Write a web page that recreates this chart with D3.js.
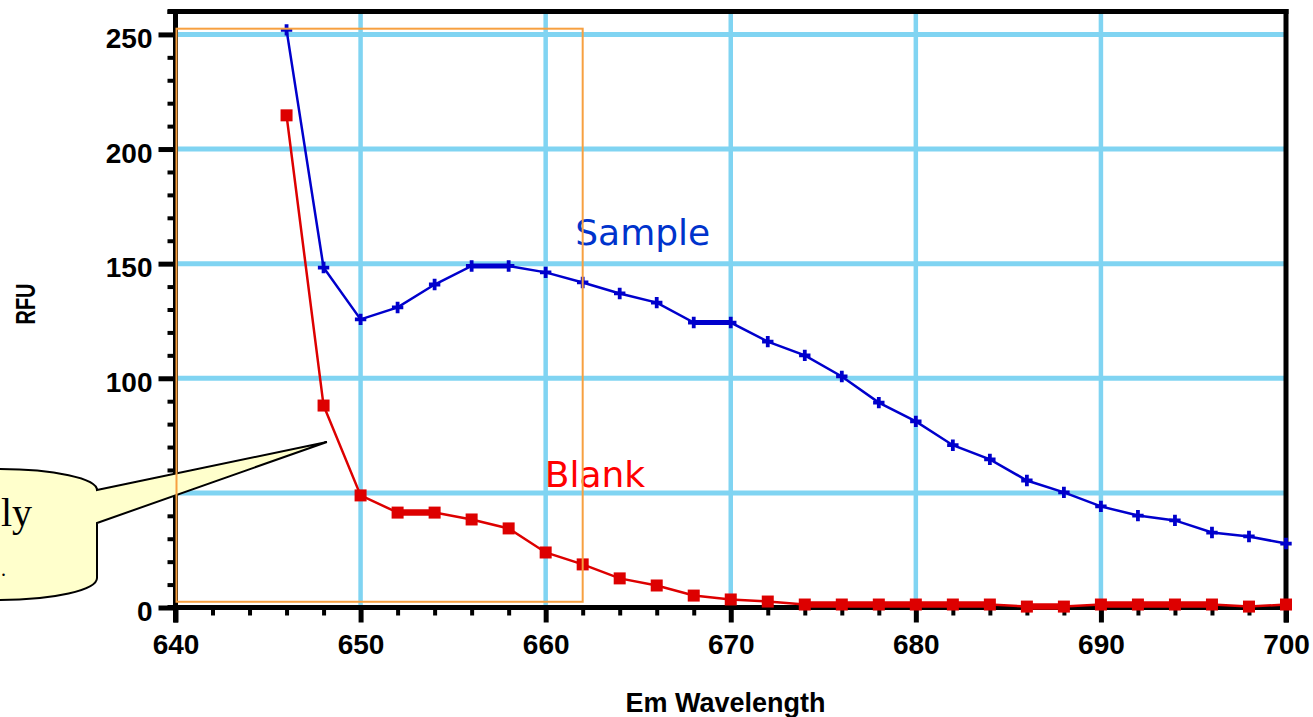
<!DOCTYPE html>
<html>
<head>
<meta charset="utf-8">
<script src="https://cdn.jsdelivr.net/npm/d3@7"></script>
<style>
  html, body { margin: 0; padding: 0; background: #fff; overflow: hidden; }
  svg { display: block; }
</style>
</head>
<body>
<svg id="chart" width="1313" height="717"></svg>
<script>
// ---- data ----
const wavelengths = [646,648,650,652,654,656,658,660,662,664,666,668,670,672,674,676,678,680,682,684,686,688,690,692,694,696,698,700];
const sampleValues = [252,148.3,125.7,130.9,140.9,149,149,146.2,141.8,137,133,124.3,124.3,116,110,100.8,89.4,81.2,70.8,64.6,55.4,50.2,44.1,40.1,38,32.7,31,27.9];
const blankValues  = [214.7,88.1,48.9,41.4,41.4,38.4,34.5,24,18.8,12.7,9.6,5.2,3.5,2.6,1.3,1.3,1.3,1.3,1.3,1.3,0.4,0.4,1.3,1.3,1.3,1.3,0.4,1.3];
const xMajorTicks = [640,650,660,670,680,690,700];
const yMajorTicks = [0,50,100,150,200,250];
const seriesLabels = ["Sample", "Blank"];
const xTitle = "Em Wavelength";
const yTitle = "RFU";
const calloutText = ["ly", "."];

// ---- layout ----
const svg = d3.select("#chart");
const x = d3.scaleLinear().domain([640, 700]).range([175.5, 1286]);
const y = d3.scaleLinear().domain([0, 260]).range([607.5, 11.5]);

const gridColor = "#80d4f2";
const blue = "#0000cc";
const red = "#dd0000";
const fontAxis = "'Liberation Sans', Arial, sans-serif";

// gridlines
const grid = svg.append("g");
grid.selectAll("line.gx").data(xMajorTicks.filter(v => v > 640 && v < 700)).join("line")
  .attr("x1", d => x(d)).attr("x2", d => x(d))
  .attr("y1", y(260)).attr("y2", y(0))
  .attr("stroke", gridColor).attr("stroke-width", 4.5);
grid.selectAll("line.gy").data(yMajorTicks.filter(v => v > 0)).join("line")
  .attr("x1", x(640)).attr("x2", x(700))
  .attr("y1", d => y(d)).attr("y2", d => y(d))
  .attr("stroke", gridColor).attr("stroke-width", 5);

// axes
function styleAxis(g, w) {
  g.select(".domain").remove();
  g.selectAll(".tick line").attr("stroke", "#000").attr("stroke-width", w);
}
const yMinor = d3.range(10, 261, 10).filter(v => v % 50 !== 0);
svg.append("g").attr("transform", `translate(${x(640)},0)`)
  .call(d3.axisLeft(y).tickValues(yMinor).tickSize(8).tickFormat(""))
  .call(g => styleAxis(g, 4));
const yAx = svg.append("g").attr("transform", `translate(${x(640)},0)`)
  .call(d3.axisLeft(y).tickValues(yMajorTicks).tickSize(17).tickPadding(6).tickFormat(d3.format("d")))
  .call(g => styleAxis(g, 5));
yAx.selectAll(".tick text").attr("dy", 0).attr("y", 13)
  .attr("font-family", fontAxis).attr("font-weight", "bold").attr("font-size", 28).attr("fill", "#000");

const xMinor = d3.range(642, 700, 2).filter(v => v % 10 !== 0);
svg.append("g").attr("transform", `translate(0,${y(0)})`)
  .call(d3.axisBottom(x).tickValues(xMinor).tickSize(8).tickFormat(""))
  .call(g => styleAxis(g, 4));
const xAx = svg.append("g").attr("transform", `translate(0,${y(0)})`)
  .call(d3.axisBottom(x).tickValues(xMajorTicks).tickSize(15).tickFormat(d3.format("d")))
  .call(g => styleAxis(g, 5));
xAx.selectAll(".tick text").attr("dy", 0).attr("y", 46)
  .attr("font-family", fontAxis).attr("font-weight", "bold").attr("font-size", 28).attr("fill", "#000");

// frame
const frame = svg.append("g").attr("stroke", "#000").attr("stroke-width", 5).attr("fill", "none");
frame.append("line").attr("x1", x(640) - 8).attr("x2", x(700) + 2.5).attr("y1", y(260)).attr("y2", y(260));
frame.append("line").attr("x1", x(640) - 8).attr("x2", x(700) + 2.5).attr("y1", y(0)).attr("y2", y(0));
frame.append("line").attr("x1", x(640)).attr("x2", x(640)).attr("y1", y(260) - 2.5).attr("y2", y(0) + 15);
frame.append("line").attr("x1", x(700)).attr("x2", x(700)).attr("y1", y(260) - 2.5).attr("y2", y(0) + 15);

// axis titles
svg.append("text").attr("x", 725.5).attr("y", 712)
  .attr("text-anchor", "middle").attr("font-family", fontAxis).attr("font-weight", "bold")
  .attr("font-size", 27).text(xTitle);
svg.append("text").attr("transform", "translate(25,304) rotate(-90) scale(1,1.37)")
  .attr("text-anchor", "middle").attr("y", 7.2)
  .attr("font-family", fontAxis).attr("font-weight", "bold").attr("font-size", 20).text(yTitle);

// callout
const tip = [x(648.18), y(72.2)];
const callout = svg.append("g");
callout.append("path")
  .attr("d", `M -60 469 L 0 469 A 97 21 0 0 1 97 490 L ${tip[0]} ${tip[1]} L 97 523 L 97 578 A 97 22 0 0 1 0 600 L -60 600 Z`)
  .attr("fill", "#ffffcc").attr("stroke", "#000").attr("stroke-width", 2);
callout.append("text").attr("x", 1).attr("y", 526).attr("text-anchor", "start")
  .attr("font-family", "'Liberation Serif', 'Times New Roman', serif").attr("font-size", 40).text(calloutText[0]);
callout.append("text").attr("x", 1).attr("y", 576).attr("text-anchor", "start")
  .attr("font-family", "'Liberation Serif', 'Times New Roman', serif").attr("font-size", 20).text(calloutText[1]);

// series
const line = d3.line().x(d => x(d[0])).y(d => y(d[1]));
const sData = wavelengths.map((w, i) => [w, sampleValues[i]]);
const bData = wavelengths.map((w, i) => [w, blankValues[i]]);

function flatSegments(data) {
  const segs = [];
  for (let i = 1; i < data.length; i++) {
    if (data[i][1] === data[i - 1][1]) segs.push([data[i - 1], data[i]]);
  }
  return segs;
}

function drawSeries(data, color, flatWidth) {
  svg.append("path").datum(data).attr("d", line)
    .attr("fill", "none").attr("stroke", color).attr("stroke-width", 2.5);
  svg.append("g").selectAll("path").data(flatSegments(data)).join("path")
    .attr("d", line).attr("fill", "none").attr("stroke", color).attr("stroke-width", flatWidth);
}

drawSeries(sData, blue, 5);
svg.append("g").selectAll("path").data(sData).join("path")
  .attr("transform", d => `translate(${x(d[0])},${y(d[1])})`)
  .attr("d", d3.symbol(d3.symbolCross, 72))
  .attr("fill", blue);

drawSeries(bData, red, 6.5);
svg.append("g").selectAll("rect").data(bData).join("rect")
  .attr("x", d => x(d[0]) - 6).attr("y", d => y(d[1]) - 6)
  .attr("width", 12).attr("height", 12)
  .attr("fill", red);

// series labels
svg.append("text").attr("x", x(661.6)).attr("y", y(158.1))
  .attr("font-family", "'DejaVu Sans', Verdana, sans-serif").attr("font-size", 36)
  .attr("fill", "#0033cc").text(seriesLabels[0]);
svg.append("text").attr("x", x(659.95)).attr("y", y(52.6))
  .attr("font-family", "'DejaVu Sans', Verdana, sans-serif").attr("font-size", 36)
  .attr("fill", "#ff0000").text(seriesLabels[1]);

// highlight rectangle
svg.append("rect")
  .attr("x", x(640) + 1).attr("y", y(252.5))
  .attr("width", x(662) - x(640) - 1).attr("height", y(2.5) - y(252.5))
  .attr("fill", "none").attr("stroke", "#f7a040").attr("stroke-width", 2);
</script>
</body>
</html>
